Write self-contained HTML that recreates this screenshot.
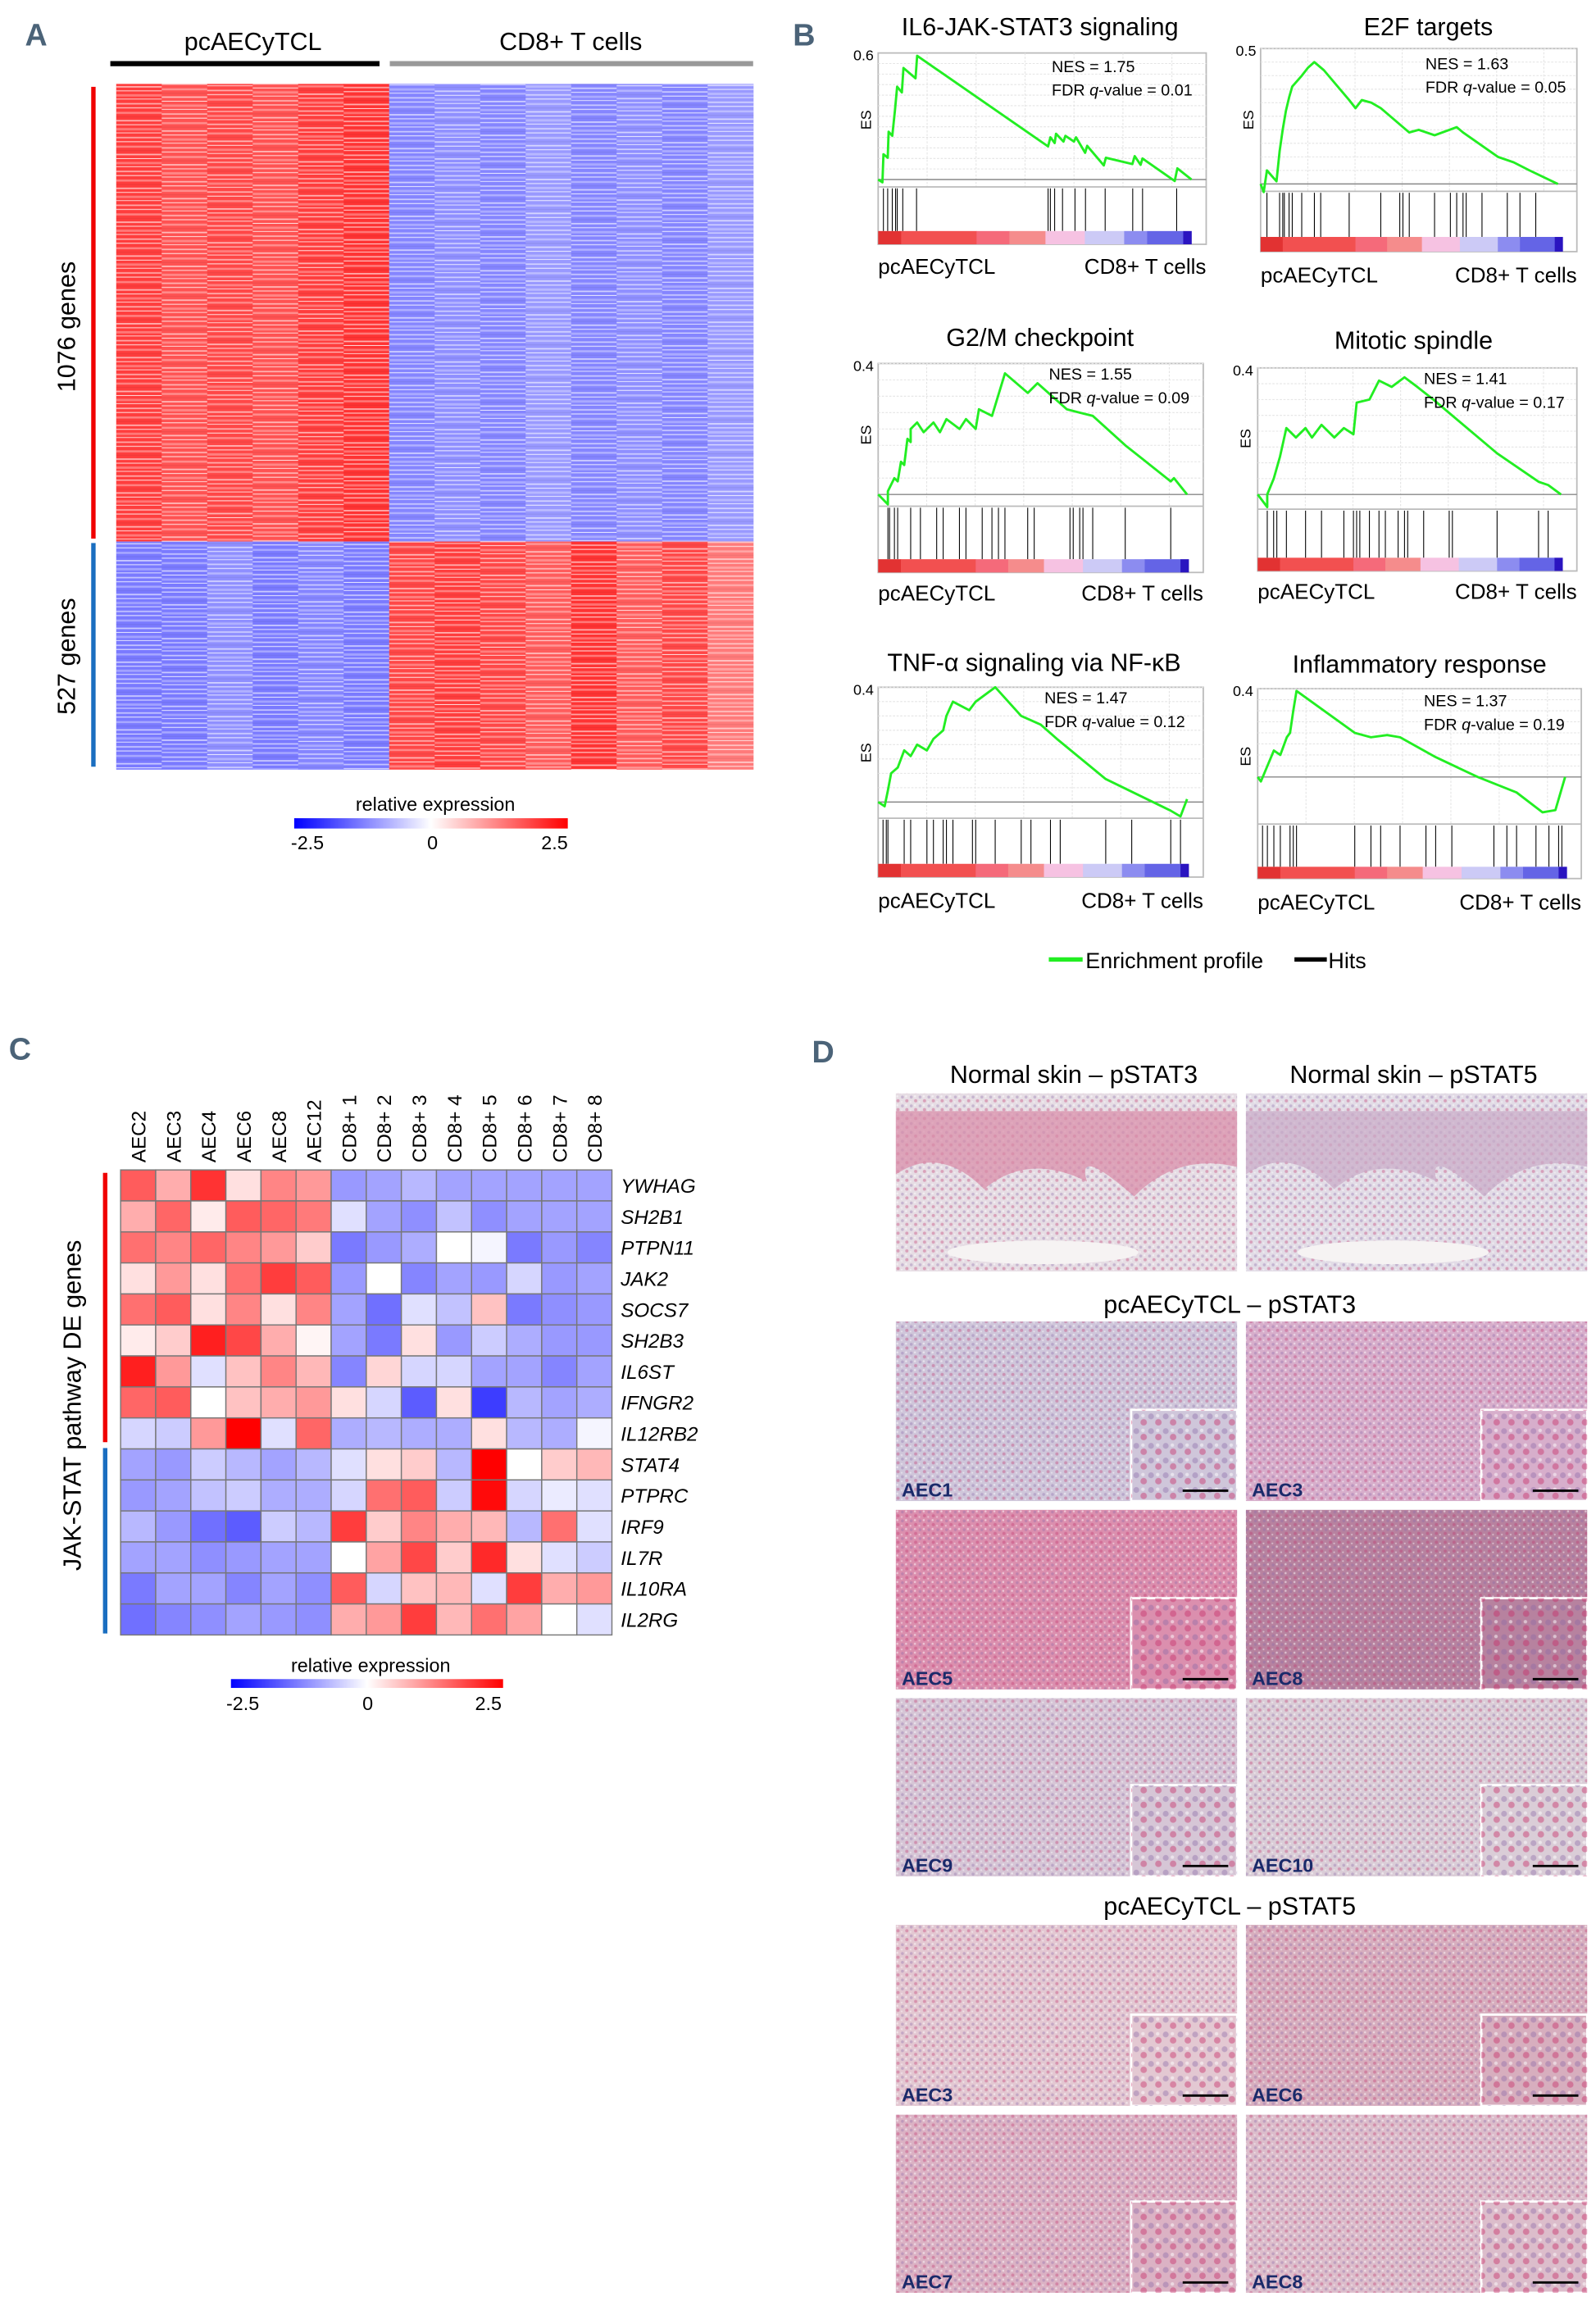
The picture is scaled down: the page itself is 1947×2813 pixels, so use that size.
<!DOCTYPE html>
<html><head><meta charset="utf-8">
<style>
html,body{margin:0;padding:0;background:#fff;}
svg{display:block;}
text{font-family:"Liberation Sans",sans-serif;}
.nar{font-family:"Liberation Sans Narrow","Liberation Sans",sans-serif;}
.lbl{font-family:"Liberation Sans Narrow","Liberation Sans",sans-serif;font-weight:bold;fill:#4b6378;}
</style></head>
<body>
<svg id="fig" width="1947" height="2813" viewBox="0 0 1085 1567" preserveAspectRatio="none" xmlns="http://www.w3.org/2000/svg">
<defs>
  <pattern id="stripesA" width="10" height="23" patternUnits="userSpaceOnUse">
    <rect x="0" y="1" width="10" height="1" fill="#fff" opacity="0.55"/>
    <rect x="0" y="4" width="10" height="0.6" fill="#fff" opacity="0.8"/>
    <rect x="0" y="7" width="10" height="1.4" fill="#fff" opacity="0.35"/>
    <rect x="0" y="10" width="10" height="0.7" fill="#000" opacity="0.06"/>
    <rect x="0" y="12.5" width="10" height="1" fill="#fff" opacity="0.6"/>
    <rect x="0" y="15.5" width="10" height="0.5" fill="#fff" opacity="0.9"/>
    <rect x="0" y="18" width="10" height="1.6" fill="#fff" opacity="0.3"/>
    <rect x="0" y="21" width="10" height="0.6" fill="#fff" opacity="0.7"/>
  </pattern>
  <linearGradient id="cmap" x1="0" x2="1" y1="0" y2="0">
    <stop offset="0" stop-color="#0000ff"/><stop offset="0.5" stop-color="#ffffff"/><stop offset="1" stop-color="#ff0000"/>
  </linearGradient>
  <pattern id="cells" width="6" height="6" patternUnits="userSpaceOnUse">
    <circle cx="1.5" cy="1.5" r="1" fill="#8a6aa8" opacity="0.35"/>
    <circle cx="4.5" cy="4" r="1.1" fill="#c0306a" opacity="0.35"/>
    <circle cx="4" cy="1" r="0.7" fill="#fff" opacity="0.5"/>
    <circle cx="1" cy="4.8" r="0.6" fill="#fff" opacity="0.45"/>
  </pattern>
  <pattern id="cellsBig" width="10" height="10" patternUnits="userSpaceOnUse">
    <circle cx="2.5" cy="2.5" r="2" fill="#8a6aa8" opacity="0.4"/>
    <circle cx="7.5" cy="6.5" r="2.2" fill="#c8306a" opacity="0.45"/>
    <circle cx="7" cy="2" r="1.2" fill="#fff" opacity="0.5"/>
  </pattern>
</defs>

<text class="lbl" x="17" y="31" font-size="21">A</text>
<text class="lbl" x="539" y="31" font-size="21">B</text>
<text class="lbl" x="6" y="720" font-size="21">C</text>
<text class="lbl" x="552" y="722" font-size="21">D</text>

<g id="panelA">
  <text x="172" y="34" font-size="17" text-anchor="middle">pcAECyTCL</text>
  <rect x="75" y="41.5" width="183" height="3.5" fill="#000"/>
  <text x="388" y="34" font-size="17" text-anchor="middle">CD8+ T cells</text>
  <rect x="265" y="41.5" width="247" height="3.5" fill="#999"/>
  <rect x="62" y="59" width="3" height="307" fill="#f00000"/>
  <rect x="62" y="369" width="3" height="152" fill="#1a6ec0"/>
  <text transform="translate(51,222) rotate(-90)" font-size="17" text-anchor="middle">1076 genes</text>
  <text transform="translate(51,446) rotate(-90)" font-size="17" text-anchor="middle">527 genes</text>
  <g id="heatA"></g>
  <text x="296" y="551" font-size="13" text-anchor="middle">relative expression</text>
  <rect x="200" y="556" width="186" height="7" fill="url(#cmap)"/>
  <text x="209" y="577" font-size="13" text-anchor="middle">-2.5</text>
  <text x="294" y="577" font-size="13" text-anchor="middle">0</text>
  <text x="377" y="577" font-size="13" text-anchor="middle">2.5</text>
</g>

<g id="panelB"></g>
<g>
  <line x1="713" y1="652" x2="736" y2="652" stroke="#22ee22" stroke-width="3"/>
  <text class="nar" x="738" y="658" font-size="15">Enrichment profile</text>
  <line x1="880" y1="652" x2="902" y2="652" stroke="#000" stroke-width="3"/>
  <text class="nar" x="903" y="658" font-size="15">Hits</text>
</g>

<g id="panelC">
  <rect x="70" y="797" width="3" height="183" fill="#f00000"/>
  <rect x="70" y="984" width="3" height="126" fill="#1a6ec0"/>
  <text transform="translate(55,955) rotate(-90)" font-size="17" text-anchor="middle">JAK-STAT pathway DE genes</text>
  <g id="heatC"></g>
  <text x="252" y="1136" font-size="13" text-anchor="middle">relative expression</text>
  <rect x="157" y="1141" width="185" height="6" fill="url(#cmap)"/>
  <text x="165" y="1162" font-size="13" text-anchor="middle">-2.5</text>
  <text x="250" y="1162" font-size="13" text-anchor="middle">0</text>
  <text x="332" y="1162" font-size="13" text-anchor="middle">2.5</text>
</g>

<g id="panelD">
  <text class="nar" x="730" y="736" font-size="17" text-anchor="middle">Normal skin – pSTAT3</text>
  <text class="nar" x="961" y="736" font-size="17" text-anchor="middle">Normal skin – pSTAT5</text>
  <text class="nar" x="836" y="892" font-size="17" text-anchor="middle">pcAECyTCL – pSTAT3</text>
  <text class="nar" x="836" y="1301" font-size="17" text-anchor="middle">pcAECyTCL – pSTAT5</text>
  <g id="tiles"></g>
</g>
</svg>

<script>
var NS = "http://www.w3.org/2000/svg";
function mk(tag, attrs, parent){ var e=document.createElementNS(NS,tag); for(var k in attrs) e.setAttribute(k,attrs[k]); parent.appendChild(e); return e; }
function cmap(v){ var t=Math.max(-1,Math.min(1,v/2.5)); var r,g,b;
  if(t>=0){ r=255; g=Math.round(255*(1-t)); b=g; } else { b=255; r=Math.round(255*(1+t)); g=r; }
  return "rgb("+r+","+g+","+b+")"; }

/* Panel A data: mean expression per sample per gene cluster */
var aSamples = ["AEC-a","AEC-b","AEC-c","AEC-d","AEC-e","AEC-f","CD8-1","CD8-2","CD8-3","CD8-4","CD8-5","CD8-6","CD8-7","CD8-8"];
var aClusters = ["1076 genes","527 genes"];
var aUpMeans = [1.9,1.7,1.8,1.7,1.9,2.0,-1.2,-1.1,-1.2,-1.0,-1.2,-1.1,-1.2,-1.0];
var aDownMeans = [-1.3,-1.3,-1.1,-1.3,-1.2,-1.3,1.8,1.9,1.8,1.6,2.0,1.6,1.8,1.3];
(function(){
  var g=document.getElementById("heatA");
  var x0=79,x1=512,yTop=57,ySplit=368,yBot=523;
  var w=(x1-x0)/aSamples.length;
  for(var i=0;i<aSamples.length;i++){
    var r1=mk("rect",{x:x0+i*w,y:yTop,width:w+0.3,height:ySplit-yTop,fill:cmap(aUpMeans[i])},g);
    
    
    var r2=mk("rect",{x:x0+i*w,y:ySplit,width:w+0.3,height:yBot-ySplit,fill:cmap(aDownMeans[i])},g);
    
    
    var gp=mk("g",{transform:"translate(0,"+((i*7)%23)+")"},g);
    var p=mk("rect",{x:x0+i*w,y:yTop-((i*7)%23),width:w+0.3,height:yBot-yTop,fill:"url(#stripesA)"},gp);
    
    
  }
})();

/* Panel B data */
var gTitles = ["IL6-JAK-STAT3 signaling","E2F targets","G2/M checkpoint","Mitotic spindle","TNF-α signaling via NF-κB","Inflammatory response"];
var gNES = ["1.75","1.63","1.55","1.41","1.47","1.37"];
var gFDR = ["0.01","0.05","0.09","0.17","0.12","0.19"];
var gMax = [0.6,0.5,0.4,0.4,0.4,0.4];
var gTickLabels = ["0.6","0.5","0.4","0.4","0.4","0.4"];
var es1x=[0,0.013,0.016,0.029,0.032,0.043,0.051,0.058,0.072,0.077,0.114,0.119,0.518,0.525,0.538,0.542,0.565,0.571,0.597,0.603,0.631,0.637,0.688,0.694,0.775,0.782,0.8,0.806,0.904,0.912,0.955];
var es1y=[0,-0.013,0.12,0.103,0.227,0.207,0.327,0.44,0.413,0.529,0.48,0.587,0.157,0.2,0.173,0.217,0.18,0.207,0.18,0.2,0.127,0.16,0.067,0.103,0.073,0.111,0.07,0.1,-0.007,0.053,0.0];
var es2x=[0,0.01,0.02,0.05,0.06,0.07,0.08,0.09,0.1,0.13,0.15,0.17,0.2,0.28,0.3,0.32,0.35,0.38,0.47,0.5,0.55,0.62,0.64,0.75,0.8,0.85,0.94];
var es2y=[0,-0.03,0.05,0.01,0.12,0.2,0.27,0.32,0.36,0.4,0.43,0.45,0.42,0.31,0.28,0.31,0.3,0.28,0.19,0.2,0.18,0.21,0.19,0.1,0.08,0.05,0.0];
var es3x=[0,0.03,0.03,0.05,0.06,0.07,0.08,0.09,0.1,0.1,0.12,0.14,0.17,0.19,0.21,0.25,0.27,0.3,0.31,0.35,0.39,0.46,0.49,0.58,0.62,0.66,0.76,0.9,0.91,0.95];
var es3y=[0,-0.03,0.01,0.05,0.04,0.1,0.09,0.17,0.16,0.2,0.22,0.19,0.22,0.19,0.23,0.2,0.23,0.2,0.26,0.24,0.37,0.31,0.34,0.26,0.25,0.24,0.15,0.04,0.05,0.0];
var es4x=[0,0.03,0.03,0.05,0.07,0.09,0.12,0.15,0.17,0.2,0.24,0.27,0.3,0.31,0.35,0.38,0.42,0.46,0.5,0.55,0.75,0.88,0.91,0.95];
var es4y=[0,-0.04,0.0,0.05,0.12,0.21,0.18,0.21,0.18,0.22,0.18,0.21,0.19,0.29,0.3,0.36,0.34,0.37,0.34,0.3,0.13,0.04,0.03,0.0];
var es5x=[0,0.02,0.03,0.04,0.06,0.08,0.1,0.12,0.15,0.17,0.2,0.21,0.23,0.28,0.3,0.36,0.44,0.5,0.55,0.7,0.9,0.93,0.95];
var es5y=[0,-0.015,0.04,0.1,0.12,0.18,0.16,0.2,0.18,0.22,0.25,0.3,0.35,0.32,0.35,0.4,0.3,0.27,0.22,0.08,-0.03,-0.05,0.01];
var es6x=[0,0.01,0.03,0.05,0.07,0.09,0.1,0.11,0.12,0.3,0.35,0.4,0.44,0.55,0.68,0.8,0.88,0.92,0.95];
var es6y=[0,-0.02,0.05,0.12,0.1,0.18,0.2,0.3,0.39,0.2,0.18,0.19,0.18,0.09,0.0,-0.07,-0.16,-0.15,0.0];
var hits1=[0.016,0.029,0.043,0.053,0.058,0.075,0.117,0.518,0.525,0.538,0.562,0.6,0.632,0.692,0.776,0.806,0.91];
var hits2=[0.02,0.06,0.07,0.075,0.09,0.1,0.13,0.17,0.19,0.28,0.38,0.44,0.45,0.47,0.55,0.6,0.62,0.64,0.65,0.7,0.78,0.82,0.87];
var hits3=[0.03,0.035,0.05,0.06,0.1,0.13,0.18,0.2,0.25,0.27,0.32,0.35,0.37,0.39,0.46,0.48,0.59,0.6,0.62,0.63,0.66,0.76,0.9];
var hits4=[0.03,0.05,0.06,0.09,0.15,0.2,0.27,0.3,0.31,0.32,0.35,0.38,0.4,0.44,0.46,0.47,0.52,0.6,0.61,0.75,0.88,0.91];
var hits5=[0.015,0.025,0.03,0.08,0.1,0.15,0.17,0.2,0.21,0.23,0.29,0.3,0.36,0.44,0.47,0.53,0.56,0.7,0.78,0.9,0.93];
var hits6=[0.015,0.03,0.05,0.07,0.1,0.11,0.12,0.3,0.35,0.38,0.44,0.52,0.55,0.6,0.73,0.77,0.8,0.86,0.9,0.93,0.94];
var gEsX=[es1x,es2x,es3x,es4x,es5x,es6x];
var gEsY=[es1y,es2y,es3y,es4y,es5y,es6y];
var gHits=[hits1,hits2,hits3,hits4,hits5,hits6];
var rankStops=[0,0.07,0.3,0.4,0.51,0.63,0.75,0.82,0.93,0.955];
var rankColors=["#e23232","#f25050","#f56a7a","#f58c8c","#f6c2e2","#cccaf6","#8c8cf0","#6464e6","#2a14c0"];

var layouts=[
 {x0:597,x1:820,top:36,base:122,esb:127,cbt:157,cbb:166,lab:186,tx:707,ty:24,nx:715,ny:49},
 {x0:857,x1:1072,top:33,base:125,esb:130,cbt:161,cbb:171,lab:192,tx:971,ty:24,nx:969,ny:47},
 {x0:597,x1:818,top:247,base:336,esb:344,cbt:380,cbb:389,lab:408,tx:707,ty:235,nx:713,ny:258},
 {x0:855,x1:1072,top:250,base:336,esb:346,cbt:379,cbb:388,lab:407,tx:961,ty:237,nx:968,ny:261},
 {x0:597,x1:818,top:467,base:545,esb:556,cbt:587,cbb:596,lab:617,tx:703,ty:456,nx:710,ny:478},
 {x0:855,x1:1075,top:468,base:528,esb:560,cbt:589,cbb:597,lab:618,tx:965,ty:457,nx:968,ny:480}
];
function drawGsea(root,k){
  var L=layouts[k];
  var g=mk("g",{},root);
  
  
  var W=L.x1-L.x0;
  var yscale=(L.base-L.top)/gMax[k];
  function xs(f){return L.x0+f*W;}
  function ys(v){return L.base-v*yscale;}
  var t=mk("text",{x:L.tx,y:L.ty,"font-size":17,"text-anchor":"middle","class":"nar"},g); t.textContent=gTitles[k];
  
  
  var box=mk("rect",{x:L.x0,y:L.top,width:W,height:L.cbb-L.top,fill:"#fff",stroke:"#bbb","stroke-width":1},g);
  
  
  for(var i=1;i<7;i++){
    var gl=mk("line",{x1:L.x0+W*i/6.7,x2:L.x0+W*i/6.7,y1:L.top,y2:L.esb,stroke:"#e4e4e4","stroke-dasharray":"1.5,1","stroke-width":0.6},g);
    
    
  }
  for(var v=0.05;v<gMax[k];v+=0.05){
    var gh=mk("line",{x1:L.x0,x2:L.x1,y1:ys(v),y2:ys(v),stroke:"#e4e4e4","stroke-dasharray":"1.5,1","stroke-width":0.6},g);
    
    
  }
  var bl=mk("line",{x1:L.x0,x2:L.x1,y1:L.base,y2:L.base,stroke:"#888","stroke-width":0.8},g);
  
  
  var sep=mk("line",{x1:L.x0,x2:L.x1,y1:L.esb,y2:L.esb,stroke:"#bbb","stroke-width":1},g);
  
  
  var tl=mk("text",{x:L.x0-3,y:L.top+5,"font-size":10,"text-anchor":"end","class":"nar"},g); tl.textContent=gTickLabels[k];
  
  
  var esl=mk("text",{transform:"translate("+(L.x0-5)+","+((L.top+L.esb)/2)+") rotate(-90)","font-size":10,"text-anchor":"middle"},g); esl.textContent="ES";
  
  
  var pts=[];
  for(var i=0;i<gEsX[k].length;i++){ pts.push(xs(gEsX[k][i]).toFixed(1)+","+ys(gEsY[k][i]).toFixed(1)); }
  var pl=mk("polyline",{points:pts.join(" "),fill:"none",stroke:"#22ee22","stroke-width":1.6,"stroke-linejoin":"round"},g);
  
  
  for(var i=0;i<gHits[k].length;i++){
    var h=mk("line",{x1:xs(gHits[k][i]),x2:xs(gHits[k][i]),y1:L.esb+1,y2:L.cbt,stroke:"#000","stroke-width":0.6},g);
    
    
  }
  for(var i=0;i<rankColors.length;i++){
    var s=mk("rect",{x:xs(rankStops[i]),y:L.cbt,width:xs(rankStops[i+1])-xs(rankStops[i])+0.2,height:L.cbb-L.cbt,fill:rankColors[i]},g);
    
    
  }
  var n1=mk("text",{x:L.nx,y:L.ny,"font-size":11,"class":"nar"},g); n1.textContent="NES = "+gNES[k];
  
  
  var n2=mk("text",{x:L.nx,y:L.ny+16,"font-size":11,"class":"nar"},g);
  
  
  n2.appendChild(document.createTextNode("FDR "));
  var q=mk("tspan",{"font-style":"italic"},n2); q.textContent="q";
  n2.appendChild(document.createTextNode("-value = "+gFDR[k]));
  var a1=mk("text",{x:L.x0,y:L.lab,"font-size":14.5,"class":"nar"},g); a1.textContent="pcAECyTCL";
  
  
  var a2=mk("text",{x:L.x1,y:L.lab,"font-size":14.5,"text-anchor":"end","class":"nar"},g); a2.textContent="CD8+ T cells";
  
  
}
(function(){ var root=document.getElementById("panelB"); for(var k=0;k<6;k++) drawGsea(root,k); })();

/* Panel C data */
var cSamples=["AEC2","AEC3","AEC4","AEC6","AEC8","AEC12","CD8+ 1","CD8+ 2","CD8+ 3","CD8+ 4","CD8+ 5","CD8+ 6","CD8+ 7","CD8+ 8"];
var cGenes=["YWHAG","SH2B1","PTPN11","JAK2","SOCS7","SH2B3","IL6ST","IFNGR2","IL12RB2","STAT4","PTPRC","IRF9","IL7R","IL10RA","IL2RG"];
var rowYWHAG=[1.6,0.8,2.0,0.3,1.2,1.0,-1.0,-0.9,-0.7,-0.9,-0.9,-0.9,-0.9,-0.9];
var rowSH2B1=[0.8,1.5,0.2,1.6,1.5,1.3,-0.3,-0.9,-1.1,-0.6,-1.1,-0.9,-0.9,-0.9];
var rowPTPN11=[1.4,1.2,1.5,1.2,1.0,0.5,-1.3,-1.0,-0.8,0.0,-0.1,-1.3,-1.0,-1.2];
var rowJAK2=[0.3,1.0,0.3,1.4,1.9,1.6,-1.0,0.0,-1.2,-0.9,-1.0,-0.4,-1.0,-0.9];
var rowSOCS7=[1.4,1.6,0.3,1.2,0.3,1.2,-0.9,-1.4,-0.3,-0.6,0.6,-1.3,-1.1,-1.0];
var rowSH2B3=[0.2,0.5,2.2,1.8,0.8,0.1,-0.9,-1.3,0.3,-1.0,-0.5,-0.8,-1.0,-1.0];
var rowIL6ST=[2.2,1.0,-0.3,0.6,1.2,0.7,-1.2,0.4,-0.4,-0.4,-0.9,-0.9,-1.2,-0.9];
var rowIFNGR2=[1.5,1.6,0.0,0.6,0.8,1.0,0.3,-0.4,-1.6,0.3,-1.9,-0.7,-0.9,-0.8];
var rowIL12RB2=[-0.4,-0.5,1.0,2.5,-0.3,1.5,-0.8,-0.7,-0.8,-0.8,0.3,-0.7,-0.8,-0.1];
var rowSTAT4=[-0.9,-1.0,-0.5,-0.7,-0.9,-0.7,-0.3,0.3,0.5,-0.7,2.5,0.0,0.5,0.7];
var rowPTPRC=[-1.0,-0.9,-0.6,-0.5,-0.8,-0.8,-0.4,1.4,1.6,-0.5,2.4,-0.4,-0.2,-0.3];
var rowIRF9=[-0.7,-1.0,-1.4,-1.6,-0.5,-0.7,1.9,0.5,1.2,0.8,0.7,-0.7,1.4,-0.3];
var rowIL7R=[-0.9,-0.9,-1.1,-1.0,-0.9,-0.9,0.0,0.9,1.8,0.5,2.1,0.3,-0.3,-0.5];
var rowIL10RA=[-1.3,-0.9,-0.9,-1.2,-0.9,-1.1,1.6,-0.4,0.6,0.7,-0.3,1.9,0.8,1.0];
var rowIL2RG=[-1.4,-1.2,-1.1,-0.9,-1.0,-1.1,0.8,1.0,1.9,0.7,1.4,0.9,0.0,-0.3];
var cValues=[rowYWHAG,rowSH2B1,rowPTPN11,rowJAK2,rowSOCS7,rowSH2B3,rowIL6ST,rowIFNGR2,rowIL12RB2,rowSTAT4,rowPTPRC,rowIRF9,rowIL7R,rowIL10RA,rowIL2RG];
(function(){
  var g=document.getElementById("heatC");
  var x0=82,x1=416,y0=795,y1=1111;
  var cw=(x1-x0)/cSamples.length, ch=(y1-y0)/cGenes.length;
  for(var r=0;r<cGenes.length;r++){
    for(var c=0;c<cSamples.length;c++){
      var cell=mk("rect",{x:x0+c*cw,y:y0+r*ch,width:cw,height:ch,fill:cmap(cValues[r][c]),stroke:"#777","stroke-width":0.8},g);
      
      
    }
    var gl=mk("text",{x:x1+6,y:y0+r*ch+ch/2+5,"font-size":13.5,"font-style":"italic"},g); gl.textContent=cGenes[r];
    
    
  }
  for(var c=0;c<cSamples.length;c++){
    var cx=x0+c*cw+cw/2+5;
    var sl=mk("text",{transform:"translate("+cx+",790) rotate(-90)","font-size":13.5},g); sl.textContent=cSamples[c];
    
    
  }
})();

/* Panel D tiles */
var tileNames=["normal-pstat3","normal-pstat5","AEC1","AEC3","AEC5","AEC8","AEC9","AEC10","AEC3","AEC6","AEC7","AEC8"];
var tileColors=["#e6dde4","#e2dce6","#cfc6da","#d7aecb","#db8fae","#b7829f","#d6c6d6","#dacdd7","#e3c8d2","#d7aebe","#dbb2c4","#dcbdcb"];
(function(){
  var g=document.getElementById("tiles");
  var cols=[609,847], w=232;
  var rows=[[743,864],[898,1020],[1026,1148],[1154,1275],[1308,1431],[1437,1558]];
  for(var i=0;i<tileNames.length;i++){
    var r=Math.floor(i/2), c=i%2;
    var x=cols[c], y=rows[r][0], h=rows[r][1]-rows[r][0];
    var t=mk("rect",{x:x,y:y,width:w,height:h,fill:tileColors[i]},g);
    
    
    var tx=mk("rect",{x:x,y:y,width:w,height:h,fill:"url(#cells)"},g);
    
    
    if(r===0){
      var d="M"+x+" "+(y+12)+" L"+(x+w)+" "+(y+12)+" L"+(x+w)+" "+(y+50)+" Q"+(x+w-40)+" "+(y+40)+" "+(x+w-70)+" "+(y+70)+" Q"+(x+w-110)+" "+(y+35)+" "+(x+130)+" "+(y+60)+" Q"+(x+90)+" "+(y+40)+" "+(x+60)+" "+(y+65)+" Q"+(x+30)+" "+(y+35)+" "+x+" "+(y+55)+" Z";
      var ep=mk("path",{d:d,fill:c===0?"#d88aa6":"#c9a9c6",opacity:0.7},g);
      
      
      var ves=mk("ellipse",{cx:x+100,cy:y+108,rx:65,ry:8,fill:"#f6f3f3"},g);
      
      
    } else {
      var inx=x+w-72, iny=y+h-62;
      var ins=mk("rect",{x:inx,y:iny,width:72,height:62,fill:tileColors[i],stroke:"#fff","stroke-width":1.5},g);
      
      
      var ins2=mk("rect",{x:inx,y:iny,width:72,height:62,fill:"url(#cellsBig)"},g);
      
      
      var sb=mk("line",{x1:inx+35,x2:inx+66,y1:iny+55,y2:iny+55,stroke:"#000","stroke-width":1.6},g);
      
      
      var lb=mk("text",{x:x+4,y:y+h-3,"font-size":13,"font-weight":"bold",fill:"#1a2a6a","class":"nar"},g); lb.textContent=tileNames[i];
      
      
    }
  }
})();
</script>
</body></html>
